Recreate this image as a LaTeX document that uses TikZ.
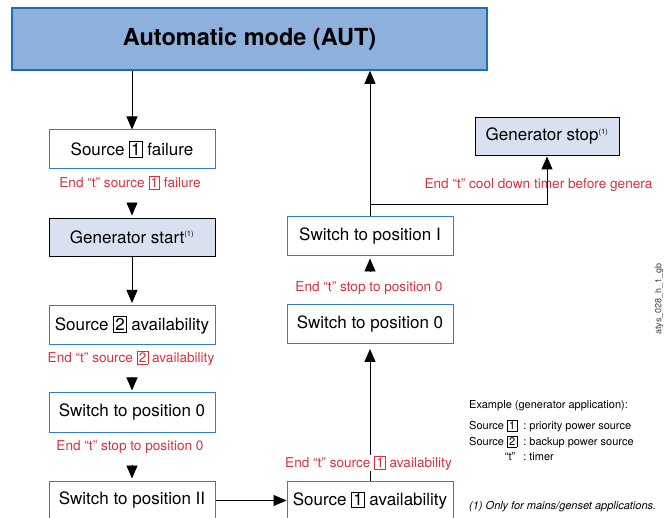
\documentclass[tikz,border=0pt]{standalone}
\usepackage{fontspec}
\setmainfont{TeX Gyre Heros}
\usepackage{tikz}
\usetikzlibrary{arrows.meta,positioning,calc}
\definecolor{autfill}{HTML}{8DB0DC}
\definecolor{autedge}{HTML}{1F6DB3}
\definecolor{stepedge}{HTML}{2F80C3}
\definecolor{genfill}{HTML}{D9E1F0}
\definecolor{timered}{HTML}{D7323F}
\newcommand{\srcbox}[1]{{\setlength{\fboxsep}{1.4pt}\setlength{\fboxrule}{0.6pt}\fbox{#1}}}

\begin{document}
\begin{tikzpicture}[x=1pt,y=-1pt,
  font=\fontsize{17}{20}\selectfont,
  topbox/.style={draw=autedge,line width=1.6pt,fill=autfill,minimum width=475pt,minimum height=62pt,
    font=\fontsize{23.5}{26}\selectfont\bfseries},
  stepbox/.style={draw=stepedge,line width=1pt,fill=white,minimum width=166pt,minimum height=39pt,inner sep=0pt},
  genbox/.style={draw=black,line width=0.9pt,fill=genfill,minimum height=38pt,inner sep=0pt},
  tlabel/.style={text=timered,font=\fontsize{13.6}{16}\selectfont,inner sep=1pt},
  flow/.style={draw=black,line width=0.9pt,-{Triangle[width=11pt,length=13pt]}},
  legtext/.style={font=\fontsize{11}{14}\selectfont,anchor=west,inner sep=0pt}
]
\clip (0,0) rectangle (672,518);
\fill[white] (0,0) rectangle (672,518);
\node[topbox] (aut) at (249.5,39) {Automatic mode (AUT)};

% left column
\node[stepbox] (fail) at (132,149.5) {Source \srcbox{1} failure};
\node[tlabel] (tfail) at (130,183) {End “t” source \srcbox{1} failure};
\node[genbox,minimum width=166pt] (gstart) at (132,237) {Generator start\textsuperscript{\fontsize{7.5}{8}\selectfont(1)}};
\node[stepbox] (src2) at (132,325) {Source \srcbox{2} availability};
\node[tlabel] (tsrc2) at (131,358) {End “t” source \srcbox{2} availability};
\node[stepbox] (swzl) at (132,412.5) {Switch to position 0};
\node[tlabel] (tswzl) at (130,447) {End “t” stop to position 0};
\node[stepbox] (swII) at (132,500.5) {Switch to position II};

% right column
\node[stepbox] (src1a) at (370,500.5) {Source \srcbox{1} availability};
\node[stepbox] (swzr) at (370,324) {Switch to position 0};
\node[tlabel] (tswzr) at (369,288) {End “t” stop to position 0};
\node[stepbox] (swI) at (370,236.5) {Switch to position I};
\node[genbox,minimum width=144pt] (gstop) at (547,136) {Generator stop\textsuperscript{\fontsize{7.5}{8}\selectfont(1)}};
\node[tlabel] (tstop) at (538.5,185) {End “t” cool down timer before genera};

\coordinate (t1) at ([yshift=15pt]gstart.north);
\coordinate (t2) at ([yshift=15pt]swzl.north);
\coordinate (t3) at ([yshift=16pt]swII.north);
\coordinate (t4) at ([yshift=-15pt]swI.south);
\coordinate (split) at (370,204);

\draw[flow] (fail |- aut.south) -- (fail.north);
\draw[flow,shorten >=2pt] (t1) -- (gstart.north);
\draw[flow,shorten >=2pt] (gstart.south) -- (src2.north);
\draw[flow,shorten >=2pt] (t2) -- (swzl.north);
\draw[flow,shorten >=2pt] (t3) -- (swII.north);
\draw[flow] (swII.east) -- (src1a.west);
\draw[flow,shorten >=5pt] (src1a.north) -- (swzr.south);
\draw[flow,shorten >=2pt] (t4) -- (swI.south);
\draw[flow] (swI.north) -- (swI |- aut.south);
\draw[flow,shorten >=1pt] (split) -| (gstop.south);
\node[tlabel,fill=white] (tsrc1) at (368.5,463) {End “t” source \srcbox{1} availability};

% legend
\node[legtext] (exhead) at (469,406) {Example (generator application):};
\node[legtext,anchor=north west] (exlist) at (469,419) {\def\arraystretch{1.1}%
  \begin{tabular}{@{}r@{\ \ :\ }l@{}}
  Source \srcbox{1} & priority power source\\
  Source \srcbox{2} & backup power source\\
  “t”\, & timer
  \end{tabular}};
\node[legtext] (note) at (469,507) {\itshape (1) Only for mains/genset applications.};
\node[rotate=90,font=\fontsize{9}{10}\selectfont,text=black!75] (ref) at (659,299) {atys\_028\_h\_1\_gb};
\end{tikzpicture}
\end{document}
